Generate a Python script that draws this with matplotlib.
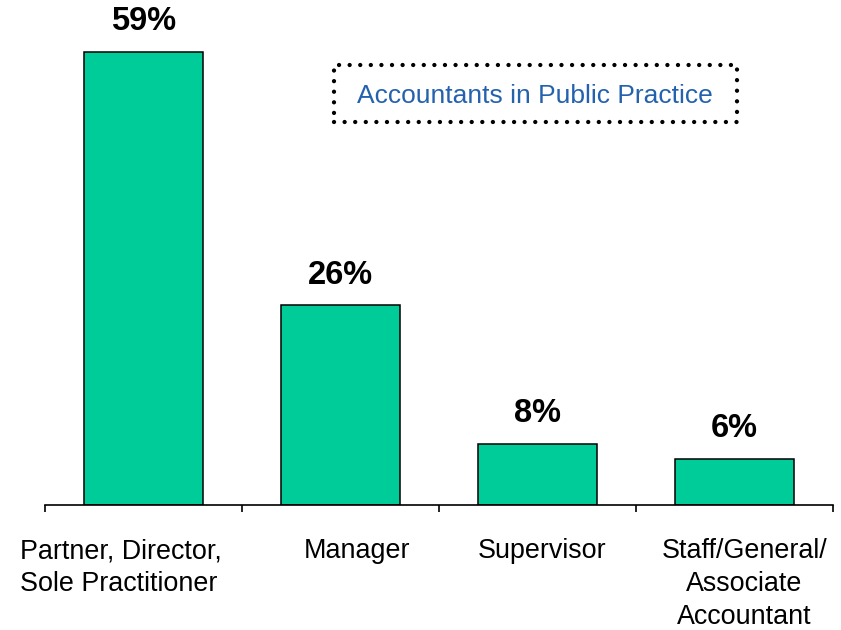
import matplotlib.pyplot as plt
import matplotlib.transforms as mtransforms
from matplotlib.patches import Rectangle

plt.rcParams['font.family'] = ['Liberation Sans', 'DejaVu Sans']

# Data
categories = ['Partner, Director,\nSole Practitioner', 'Manager', 'Supervisor',
              'Staff/General/\nAssociate\nAccountant']
shares = [59, 26, 8, 6]
label_shift_px = [-23, 17, 5, 10]   # labels in the original are not quite centred
label_align = ['left', 'center', 'center', 'center']

fig = plt.figure(figsize=(8.41, 6.3), dpi=100)
ax = fig.add_axes([45 / 841, 125 / 630, 788 / 841, 505 / 630])

x = range(len(shares))
bars = ax.bar(x, shares, width=0.6, color='#00CC99', edgecolor='black', linewidth=1.1)

ax.set_xlim(-0.5, len(shares) - 0.5)
ax.set_ylim(0, 505 / 7.68)

for b, v in zip(bars, shares):
    ax.annotate(f'{v}%', (b.get_x() + b.get_width() / 2, v), xytext=(0, 10.5),
                textcoords='offset points', ha='center', va='bottom',
                fontsize=23.5, fontweight='bold')

# axis: only the bottom line, ticks at category boundaries
for s in ['top', 'right', 'left']:
    ax.spines[s].set_visible(False)
ax.spines['bottom'].set_linewidth(1.2)
ax.set_yticks([])
ax.set_xticks([i - 0.5 for i in range(len(shares) + 1)])
ax.set_xticklabels([])
ax.tick_params(axis='x', which='major', direction='out', length=5, width=1.2)
ax.set_xticks(list(x), minor=True)
ax.set_xticklabels(categories, minor=True, fontsize=19.4, linespacing=1.33)
ax.tick_params(axis='x', which='minor', length=0, pad=24)
for lab, dx, al in zip(ax.get_xticklabels(minor=True), label_shift_px, label_align):
    lab.set_multialignment(al)
    lab.set_transform(lab.get_transform() +
                      mtransforms.ScaledTranslation(dx / 100, 0, fig.dpi_scale_trans))

# dotted box with the title
box = Rectangle((334 / 841, 1 - 122 / 630), 403 / 841, 57 / 630, transform=fig.transFigure,
                fill=False, edgecolor='black', linewidth=3.1, linestyle=(0, (0.01, 2.45)))
box.set_capstyle('round')
fig.patches.append(box)
fig.text(535 / 841, 1 - 96 / 630, 'Accountants in Public Practice', ha='center', va='center',
         fontsize=19, color='#2462AE')

fig.savefig('out.png', dpi=100)
